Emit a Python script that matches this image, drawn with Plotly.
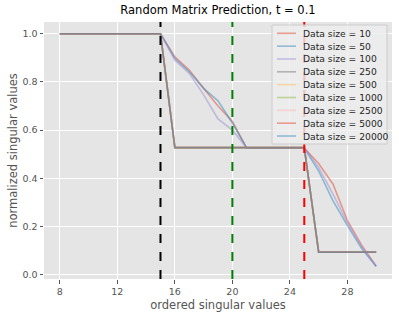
import plotly.graph_objects as go

x_vals = list(range(8, 31))

head = [1.0] * 8  # x = 8..15
smooth_10 = head + [0.904, 0.849, 0.773, 0.700, 0.636, 0.525, 0.525, 0.525, 0.525, 0.525, 0.461, 0.375, 0.224, 0.121, 0.035]
smooth_50 = head + [0.897, 0.842, 0.773, 0.721, 0.629, 0.525, 0.525, 0.525, 0.525, 0.525, 0.430, 0.306, 0.203, 0.107, 0.033]
smooth_100 = head + [0.890, 0.835, 0.746, 0.646, 0.600, 0.525, 0.525, 0.525, 0.525, 0.525, 0.445, 0.334, 0.214, 0.114, 0.034]
step = head + [0.527, 0.527, 0.527, 0.527, 0.527, 0.527, 0.527, 0.527, 0.527, 0.527, 0.093, 0.093, 0.093, 0.093, 0.093]

labels = ["Data size = 10", "Data size = 50", "Data size = 100", "Data size = 250",
          "Data size = 500", "Data size = 1000", "Data size = 2500", "Data size = 5000",
          "Data size = 20000"]
series = [smooth_10, smooth_50, smooth_100, step, step, step, step, step, step]
colors = ["#E24A33", "#348ABD", "#988ED5", "#777777", "#FBC15E", "#8EBA42", "#FFB5B8", "#E24A33", "#348ABD"]
ALPHA = 0.5

vlines = [(15, "black"), (20, "green"), (25, "red")]

# plot area in pixels
L, R, T, B = 44, 392, 22, 279
W, H = 399, 319


def px(xp):
    return (xp - L) / (R - L)


def py(yp):
    return (B - yp) / (B - T)


def rgba(hexc, a):
    h = hexc.lstrip("#")
    return "rgba(%d,%d,%d,%.2f)" % (int(h[0:2], 16), int(h[2:4], 16), int(h[4:6], 16), a)


fig = go.Figure()
for lab, ys, c in zip(labels, series, colors):
    fig.add_trace(go.Scatter(x=x_vals, y=ys, mode="lines", name=lab, showlegend=False,
                             line=dict(color=c, width=1.6), opacity=ALPHA, hoverinfo="skip"))

for xv, c in vlines:
    fig.add_shape(type="line", x0=xv, x1=xv, y0=0, y1=1, xref="x", yref="paper",
                  line=dict(color=c, width=2, dash="dash"))

# legend box (drawn manually to match compact matplotlib spacing)
fig.add_shape(type="rect", xref="paper", yref="paper",
              x0=px(272), x1=px(387), y0=py(144), y1=py(25),
              fillcolor="rgba(238,238,238,0.8)", line=dict(color="#CCCCCC", width=1))
for i, (lab, c) in enumerate(zip(labels, colors)):
    yc = 33.3 + 12.84 * i
    fig.add_shape(type="line", xref="paper", yref="paper",
                  x0=px(277), x1=px(296), y0=py(yc), y1=py(yc),
                  line=dict(color=rgba(c, ALPHA), width=1.6))
    fig.add_annotation(xref="paper", yref="paper", x=px(301), y=py(yc), text=lab,
                       showarrow=False, xanchor="left", yanchor="middle",
                       font=dict(size=9.2, color="#262626"))

fig.update_layout(
    width=W, height=H,
    margin=dict(l=L, r=W - R, t=T, b=H - B),
    paper_bgcolor="white", plot_bgcolor="#E5E5E5",
    font=dict(family="DejaVu Sans", size=9.5, color="#555555"),
    title=dict(text="Random Matrix Prediction, t = 0.1", x=((L + R) / 2) / W, xanchor="center",
               y=1 - 10 / H, yanchor="middle", font=dict(size=11.5, color="black")),
    showlegend=False,
)
fig.update_xaxes(range=[6.9, 31.1], tickvals=[8, 12, 16, 20, 24, 28], showgrid=True,
                 gridcolor="white", gridwidth=1, zeroline=False, ticks="outside",
                 ticklen=3.5, tickcolor="#555555", automargin=False,
                 title=dict(text="ordered singular values", font=dict(size=11.5, color="#555555"), standoff=5))
fig.update_yaxes(range=[-0.0185, 1.0485], tickvals=[0, 0.2, 0.4, 0.6, 0.8, 1.0], tickformat=".1f",
                 showgrid=True, gridcolor="white", gridwidth=1, zeroline=False, ticks="outside",
                 ticklen=3.5, tickcolor="#555555", automargin=False,
                 title=dict(text="normalized singular values", font=dict(size=11.5, color="#555555"), standoff=2))

fig.write_html("out.html", config={"displayModeBar": False},
               post_script="document.body.style.margin='0';document.body.style.padding='0';")
